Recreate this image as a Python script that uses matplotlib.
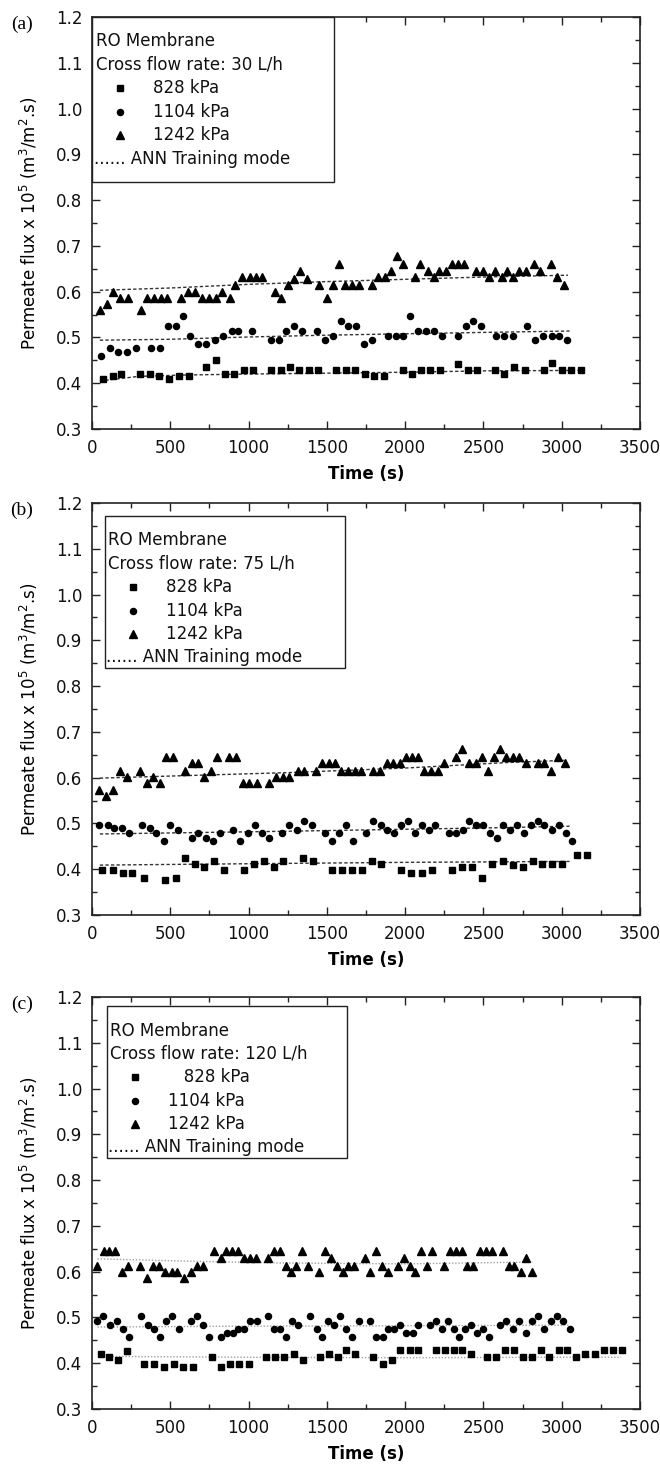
import matplotlib
matplotlib.use('Agg')
import matplotlib.pyplot as plt
from matplotlib.patches import Rectangle
from matplotlib.ticker import MultipleLocator

plt.rcParams['font.family'] = ['DejaVu Sans']
plt.rcParams['mathtext.fontset'] = 'dejavusans'

# ---------------- (a) cross flow 30 L/h ----------------
t_a_828 = [68, 131, 186, 309, 371, 430, 494, 555, 617, 731, 790, 850, 909, 970, 1030, 1146, 1208, 1267,
           1324, 1383, 1441, 1561, 1625, 1680, 1742, 1801, 1864, 1985, 2044, 2104, 2161, 2220, 2339, 2400,
           2458, 2576, 2633, 2696, 2764, 2885, 2939, 3002, 3061, 3123]
v_a_828 = [0.410, 0.415, 0.420, 0.420, 0.420, 0.415, 0.410, 0.415, 0.415, 0.436, 0.451, 0.420, 0.420, 0.428,
           0.428, 0.428, 0.428, 0.436, 0.428, 0.428, 0.428, 0.428, 0.428, 0.428, 0.420, 0.415, 0.415, 0.428,
           0.420, 0.428, 0.428, 0.428, 0.443, 0.428, 0.428, 0.428, 0.420, 0.436, 0.428, 0.428, 0.445, 0.428,
           0.428, 0.428]
t_a_1104 = [59, 112, 165, 222, 278, 375, 434, 483, 536, 583, 629, 680, 731, 784, 837, 892, 934, 1025, 1142,
            1193, 1239, 1288, 1339, 1436, 1489, 1540, 1589, 1636, 1684, 1737, 1788, 1890, 1941, 1987, 2034,
            2085, 2136, 2186, 2237, 2335, 2386, 2436, 2483, 2578, 2629, 2686, 2781, 2829, 2883, 2936, 2984,
            3031]
v_a_1104 = [0.459, 0.476, 0.468, 0.468, 0.476, 0.476, 0.476, 0.525, 0.525, 0.547, 0.504, 0.485, 0.485, 0.495,
            0.504, 0.514, 0.514, 0.514, 0.495, 0.495, 0.514, 0.525, 0.514, 0.514, 0.495, 0.504, 0.536, 0.525,
            0.525, 0.485, 0.495, 0.504, 0.504, 0.504, 0.547, 0.514, 0.514, 0.514, 0.504, 0.504, 0.525, 0.536,
            0.525, 0.504, 0.504, 0.504, 0.525, 0.495, 0.504, 0.504, 0.504, 0.495]
t_a_1242 = [49, 95, 133, 180, 227, 311, 354, 396, 439, 481, 568, 614, 661, 703, 748, 794, 833, 879, 915, 960,
            1006, 1049, 1087, 1167, 1210, 1250, 1292, 1328, 1373, 1451, 1498, 1540, 1578, 1617, 1659, 1706,
            1786, 1828, 1869, 1907, 1945, 1985, 2062, 2097, 2144, 2182, 2218, 2261, 2299, 2337, 2375, 2453,
            2496, 2536, 2576, 2617, 2648, 2690, 2730, 2775, 2820, 2860, 2930, 2970, 3015]
v_a_1242 = [0.561, 0.574, 0.600, 0.587, 0.587, 0.561, 0.587, 0.587, 0.587, 0.587, 0.587, 0.600, 0.600, 0.587,
            0.587, 0.587, 0.600, 0.587, 0.615, 0.631, 0.631, 0.631, 0.631, 0.600, 0.587, 0.615, 0.628, 0.645,
            0.628, 0.615, 0.587, 0.615, 0.661, 0.615, 0.615, 0.615, 0.615, 0.631, 0.631, 0.645, 0.678, 0.661,
            0.631, 0.661, 0.645, 0.631, 0.645, 0.645, 0.661, 0.661, 0.661, 0.645, 0.645, 0.631, 0.645, 0.631,
            0.645, 0.631, 0.645, 0.645, 0.661, 0.645, 0.661, 0.631, 0.615]
# ANN training curves
ann_t_a_828 = [50, 300, 600, 1000, 1500, 2000, 2500, 3130]
ann_v_a_828 = [0.405, 0.415, 0.418, 0.420, 0.422, 0.424, 0.427, 0.428]
ann_t_a_1104 = [50, 500, 1000, 1500, 2000, 2500, 3050]
ann_v_a_1104 = [0.494, 0.496, 0.501, 0.505, 0.508, 0.511, 0.514]
ann_t_a_1242 = [50, 500, 1000, 1500, 2000, 2500, 3040]
ann_v_a_1242 = [0.603, 0.608, 0.616, 0.622, 0.627, 0.632, 0.636]

# ---------------- (b) cross flow 75 L/h ----------------
t_b_828 = [66, 131, 195, 258, 331, 464, 534, 595, 657, 718, 782, 845, 970, 1036, 1100, 1161, 1222, 1345,
           1409, 1532, 1597, 1661, 1725, 1788, 1847, 1975, 2040, 2106, 2171, 2299, 2362, 2426, 2494, 2555,
           2627, 2690, 2750, 2815, 2875, 2940, 3000, 3100, 3160]
v_b_828 = [0.398, 0.398, 0.391, 0.391, 0.381, 0.376, 0.381, 0.424, 0.411, 0.404, 0.417, 0.398, 0.398, 0.411,
           0.417, 0.404, 0.417, 0.424, 0.417, 0.398, 0.398, 0.398, 0.398, 0.417, 0.411, 0.398, 0.391, 0.391,
           0.398, 0.398, 0.404, 0.404, 0.381, 0.411, 0.417, 0.410, 0.404, 0.417, 0.411, 0.411, 0.411, 0.430,
           0.430]
t_b_1104 = [47, 100, 142, 189, 237, 322, 369, 411, 458, 500, 549, 638, 680, 725, 771, 816, 898, 947, 994,
            1040, 1085, 1131, 1216, 1258, 1309, 1356, 1403, 1489, 1536, 1578, 1621, 1667, 1752, 1797, 1843,
            1886, 1932, 1975, 2019, 2061, 2106, 2150, 2193, 2278, 2324, 2369, 2411, 2453, 2500, 2542, 2585,
            2627, 2670, 2715, 2760, 2805, 2850, 2890, 2935, 2980, 3025, 3065]
v_b_1104 = [0.496, 0.496, 0.489, 0.489, 0.479, 0.496, 0.489, 0.479, 0.461, 0.496, 0.486, 0.469, 0.479, 0.469,
            0.461, 0.479, 0.486, 0.461, 0.479, 0.496, 0.479, 0.469, 0.479, 0.496, 0.486, 0.506, 0.496, 0.479,
            0.461, 0.479, 0.496, 0.461, 0.479, 0.506, 0.496, 0.486, 0.479, 0.496, 0.506, 0.479, 0.496, 0.486,
            0.496, 0.479, 0.479, 0.486, 0.506, 0.496, 0.496, 0.479, 0.469, 0.496, 0.486, 0.496, 0.479, 0.496,
            0.506, 0.496, 0.486, 0.496, 0.479, 0.461]
t_b_1242 = [47, 89, 136, 182, 225, 305, 352, 390, 432, 475, 517, 597, 636, 678, 716, 763, 801, 877, 919, 962,
            1004, 1051, 1131, 1174, 1220, 1258, 1314, 1352, 1430, 1472, 1515, 1553, 1593, 1636, 1678, 1720,
            1797, 1839, 1881, 1924, 1964, 2006, 2044, 2085, 2123, 2165, 2208, 2250, 2326, 2366, 2409, 2451,
            2489, 2532, 2568, 2606, 2644, 2690, 2730, 2770, 2850, 2890, 2930, 2975, 3020]
v_b_1242 = [0.574, 0.561, 0.574, 0.615, 0.601, 0.615, 0.588, 0.601, 0.588, 0.646, 0.646, 0.615, 0.632, 0.632,
            0.601, 0.615, 0.646, 0.646, 0.646, 0.588, 0.588, 0.588, 0.588, 0.601, 0.601, 0.601, 0.615, 0.615,
            0.615, 0.632, 0.632, 0.632, 0.615, 0.615, 0.615, 0.615, 0.615, 0.615, 0.632, 0.632, 0.632, 0.646,
            0.646, 0.646, 0.615, 0.615, 0.615, 0.632, 0.646, 0.663, 0.632, 0.632, 0.646, 0.615, 0.646, 0.663,
            0.646, 0.646, 0.646, 0.632, 0.632, 0.632, 0.615, 0.646, 0.632]
ann_t_b_828 = [50, 1000, 2000, 3050]
ann_v_b_828 = [0.409, 0.412, 0.415, 0.417]
ann_t_b_1104 = [50, 1250, 2650, 3050]
ann_v_b_1104 = [0.477, 0.483, 0.491, 0.494]
ann_t_b_1242 = [50, 1250, 2000, 2650, 3030]
ann_v_b_1242 = [0.599, 0.611, 0.621, 0.633, 0.638]

# ---------------- (c) cross flow 120 L/h ----------------
t_c_828 = [55, 110, 167, 225, 335, 394, 458, 521, 581, 648, 767, 826, 881, 941, 1000, 1110, 1169, 1227,
           1288, 1345, 1458, 1515, 1568, 1621, 1678, 1797, 1856, 1917, 1970, 2028, 2085, 2197, 2252, 2309,
           2364, 2419, 2525, 2580, 2638, 2695, 2750, 2810, 2865, 2920, 2980, 3035, 3090, 3150, 3210, 3270,
           3330, 3385]
v_c_828 = [0.420, 0.414, 0.407, 0.426, 0.399, 0.399, 0.392, 0.399, 0.392, 0.392, 0.414, 0.392, 0.399, 0.399,
           0.399, 0.414, 0.414, 0.414, 0.420, 0.407, 0.414, 0.420, 0.414, 0.428, 0.420, 0.414, 0.399, 0.407,
           0.428, 0.428, 0.428, 0.428, 0.428, 0.428, 0.428, 0.420, 0.414, 0.414, 0.428, 0.428, 0.414, 0.414,
           0.428, 0.414, 0.428, 0.428, 0.414, 0.420, 0.420, 0.428, 0.428, 0.428]
t_c_1104 = [34, 72, 114, 157, 195, 237, 316, 358, 394, 432, 475, 513, 553, 633, 672, 708, 750, 824, 860, 898,
            930, 972, 1008, 1051, 1127, 1163, 1201, 1242, 1275, 1318, 1394, 1436, 1472, 1508, 1547, 1585,
            1623, 1663, 1705, 1775, 1814, 1856, 1892, 1932, 1970, 2008, 2047, 2085, 2157, 2195, 2233, 2271,
            2309, 2347, 2383, 2419, 2458, 2496, 2534, 2606, 2644, 2690, 2730, 2770, 2810, 2850, 2890, 2930,
            2970, 3010, 3050]
v_c_1104 = [0.493, 0.504, 0.484, 0.493, 0.475, 0.457, 0.504, 0.484, 0.475, 0.457, 0.493, 0.504, 0.475, 0.493,
            0.504, 0.484, 0.457, 0.457, 0.466, 0.466, 0.475, 0.475, 0.493, 0.493, 0.504, 0.475, 0.475, 0.457,
            0.493, 0.484, 0.504, 0.475, 0.457, 0.493, 0.484, 0.504, 0.475, 0.457, 0.493, 0.493, 0.457, 0.457,
            0.475, 0.475, 0.484, 0.466, 0.466, 0.484, 0.484, 0.493, 0.475, 0.493, 0.475, 0.457, 0.475, 0.484,
            0.466, 0.475, 0.457, 0.484, 0.493, 0.475, 0.493, 0.466, 0.493, 0.504, 0.475, 0.493, 0.504, 0.493,
            0.475]
t_c_1242 = [34, 74, 110, 147, 189, 231, 307, 351, 390, 429, 466, 508, 545, 589, 630, 670, 709, 782, 822, 858,
            895, 932, 969, 1011, 1047, 1126, 1165, 1199, 1239, 1268, 1305, 1342, 1378, 1452, 1489, 1528, 1562,
            1604, 1636, 1673, 1741, 1778, 1815, 1852, 1889, 1955, 1992, 2028, 2065, 2102, 2139, 2171, 2249,
            2286, 2323, 2360, 2396, 2433, 2475, 2514, 2556, 2624, 2661, 2698, 2740, 2772, 2813]
v_c_1242 = [0.613, 0.645, 0.645, 0.645, 0.600, 0.613, 0.613, 0.586, 0.613, 0.613, 0.600, 0.600, 0.600, 0.586,
            0.600, 0.613, 0.613, 0.645, 0.629, 0.645, 0.645, 0.645, 0.629, 0.629, 0.629, 0.629, 0.645, 0.645,
            0.613, 0.600, 0.613, 0.645, 0.613, 0.600, 0.645, 0.629, 0.613, 0.600, 0.613, 0.613, 0.629, 0.600,
            0.645, 0.613, 0.600, 0.613, 0.629, 0.613, 0.600, 0.645, 0.613, 0.645, 0.613, 0.645, 0.645, 0.645,
            0.613, 0.613, 0.645, 0.645, 0.645, 0.645, 0.613, 0.613, 0.600, 0.629, 0.600]
ann_t_c_828 = [50, 1000, 2000, 3000, 3380]
ann_v_c_828 = [0.415, 0.413, 0.412, 0.413, 0.413]
ann_t_c_1104 = [35, 1000, 2000, 3050]
ann_v_c_1104 = [0.479, 0.481, 0.482, 0.483]
ann_t_c_1242 = [35, 600, 1200, 2000, 2813]
ann_v_c_1242 = [0.628, 0.623, 0.619, 0.617, 0.621]

pressures = ['828 kPa', '1104 kPa', '1242 kPa']
flows = ['30 L/h', '75 L/h', '120 L/h']
panel_tags = ['(a)', '(b)', '(c)']

# marker shape and size for each pressure
marks = [('s', 3.8), ('o', 4.4), ('^', 5.4)]

FIG_W, FIG_H = 660, 1470
AX_LEFT, AX_W, AX_H = 92, 548, 412


def draw_key(ax, left, top, width, height, flow, labels):
    # boxed key, positions in pixels from the axes' upper left corner
    def fx(px):
        return px / AX_W

    def fy(px):
        return 1 - px / AX_H

    ax.add_patch(Rectangle((fx(left), fy(top + height)), width / AX_W, height / AX_H,
                           transform=ax.transAxes, facecolor='white', edgecolor='#222222',
                           lw=1.0, zorder=4, clip_on=False))
    step = 23.4
    y0 = top + 24.5
    kw = dict(transform=ax.transAxes, fontsize=12, va='center', ha='left', zorder=5, color='#111111')
    ax.text(fx(left + 3.5), fy(y0), 'RO Membrane', **kw)
    ax.text(fx(left + 3.5), fy(y0 + step), 'Cross flow rate: ' + flow, **kw)
    for i, (m, ms) in enumerate(marks):
        yy = fy(y0 + step * (i + 2))
        ax.plot([fx(left + 28)], [yy], marker=m, ms=ms, color='black', ls='none',
                transform=ax.transAxes, clip_on=False, zorder=5)
        ax.text(fx(left + 61), yy, labels[i], **kw)
    ax.text(fx(left + 1.5), fy(y0 + step * 5), '...... ANN Training mode', **kw)


def draw_panel(top, series, fits, fit_kw, flow, labels, key_box, tag):
    ax = fig.add_axes([AX_LEFT / FIG_W, 1 - (top + AX_H) / FIG_H, AX_W / FIG_W, AX_H / FIG_H])
    for (t, v), (m, ms) in zip(series, marks):
        ax.plot(t, v, marker=m, ms=ms, color='black', ls='none', zorder=3)
    for t, v in fits:
        ax.plot(t, v, zorder=2, **fit_kw)

    ax.set_xlim(0, 3500)
    ax.set_ylim(0.3, 1.2)
    ax.xaxis.set_major_locator(MultipleLocator(500))
    ax.xaxis.set_minor_locator(MultipleLocator(250))
    ax.yaxis.set_major_locator(MultipleLocator(0.1))
    ax.yaxis.set_minor_locator(MultipleLocator(0.05))
    ax.yaxis.set_major_formatter(lambda y, pos: '%.1f' % y)
    ax.tick_params(which='both', direction='in', top=True, right=True, width=1.0,
                   colors='#222222', labelcolor='#111111', labelsize=12)
    ax.tick_params(which='major', length=6, pad=7)
    ax.tick_params(which='minor', length=3.5)
    for s in ax.spines.values():
        s.set_linewidth(1.2)
        s.set_color('#222222')

    ax.set_xlabel('Time (s)', fontsize=12, fontweight='bold', labelpad=6)
    ax.set_ylabel('Permeate flux x 10$^5$ (m$^3$/m$^2$.s)', fontsize=12, labelpad=11)

    draw_key(ax, *key_box, flow, labels)
    fig.text(22 / FIG_W, 1 - (top + 7) / FIG_H, tag, family='Liberation Serif', fontsize=14,
             ha='center', va='center')
    return ax


fig = plt.figure(figsize=(FIG_W / 100, FIG_H / 100), dpi=100)

dash_dark = dict(color='#333333', lw=1.0, ls=(0, (2.4, 1.6)))
dot_light = dict(color='#a0a0a0', lw=1.0, ls=(0, (1.0, 1.3)))

draw_panel(17,
           [(t_a_828, v_a_828), (t_a_1104, v_a_1104), (t_a_1242, v_a_1242)],
           [(ann_t_a_828, ann_v_a_828), (ann_t_a_1104, ann_v_a_1104), (ann_t_a_1242, ann_v_a_1242)],
           dash_dark, flows[0], pressures, (0, 0, 242, 165), panel_tags[0])

draw_panel(503,
           [(t_b_828, v_b_828), (t_b_1104, v_b_1104), (t_b_1242, v_b_1242)],
           [(ann_t_b_828, ann_v_b_828), (ann_t_b_1104, ann_v_b_1104), (ann_t_b_1242, ann_v_b_1242)],
           dash_dark, flows[1], pressures, (13, 13, 240, 152), panel_tags[1])

draw_panel(997,
           [(t_c_828, v_c_828), (t_c_1104, v_c_1104), (t_c_1242, v_c_1242)],
           [(ann_t_c_828, ann_v_c_828), (ann_t_c_1104, ann_v_c_1104), (ann_t_c_1242, ann_v_c_1242)],
           dot_light, flows[2], ['   ' + pressures[0], pressures[1], pressures[2]],
           (15, 9, 240, 152), panel_tags[2])

fig.savefig('out.png', dpi=100)
